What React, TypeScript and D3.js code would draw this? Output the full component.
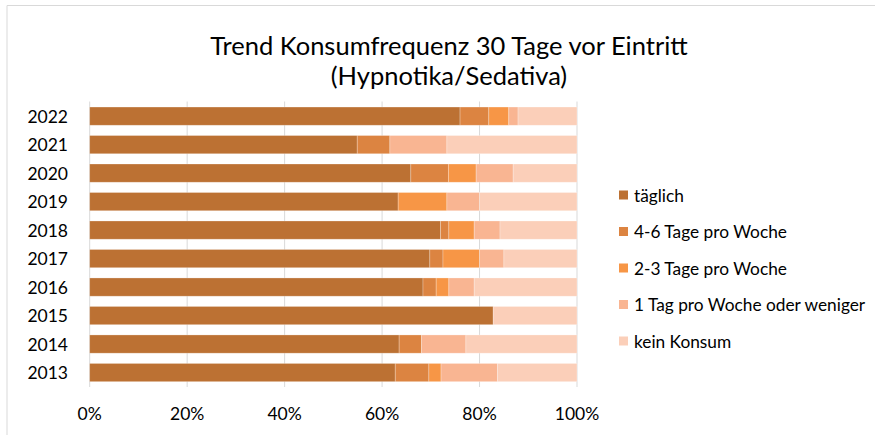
import * as d3 from 'd3';

const years = ['2022', '2021', '2020', '2019', '2018', '2017', '2016', '2015', '2014', '2013'];
const seriesNames = ['täglich', '4-6 Tage pro Woche', '2-3 Tage pro Woche', '1 Tag pro Woche oder weniger', 'kein Konsum'];
const taeglich = [76.0, 54.9, 65.9, 63.3, 72.0, 69.8, 68.4, 82.8, 63.5, 62.7];
const tage46 = [5.9, 6.7, 7.7, 0, 1.7, 2.7, 2.7, 0, 4.6, 6.9];
const tage23 = [4.1, 0, 5.7, 10.0, 5.2, 7.5, 2.6, 0, 0, 2.5];
const tag1 = [1.9, 11.7, 7.6, 6.7, 5.3, 5.0, 5.2, 0, 9.1, 11.6];
const keinKonsum = [12.1, 26.7, 13.1, 20.0, 15.8, 15.0, 21.1, 17.2, 22.8, 16.3];
const colors = ['#bc7133', '#dc8441', '#f79646', '#f9b592', '#fbcfb9'];
const ticks = [0, 20, 40, 60, 80, 100];

const font = 'Lato, "Noto Sans", sans-serif';

const App = () => {
  const width = 875;
  const height = 435;

  const rows = years.map((year, i) => ({
    year,
    [seriesNames[0]]: taeglich[i],
    [seriesNames[1]]: tage46[i],
    [seriesNames[2]]: tage23[i],
    [seriesNames[3]]: tag1[i],
    [seriesNames[4]]: keinKonsum[i],
  }));

  const stacked = d3.stack().keys(seriesNames)(rows as any);

  const x = d3.scaleLinear().domain([0, 100]).range([89.7, 577]);
  const y = d3.scaleBand().domain(years).range([101.9, 386.8]).paddingInner(0.36).paddingOuter(0.18);

  return (
    <svg width={width} height={height} style={{ position: 'absolute', left: 0, top: 0, background: '#fff' }}>
      {/* chart frame, only top and left edges are visible */}
      <line x1={7} y1={5.5} x2={width} y2={5.5} stroke="#d9d9d9" strokeWidth={1} />
      <line x1={7} y1={5.5} x2={7} y2={height} stroke="#d9d9d9" strokeWidth={1} />

      <text x={449} y={45} textAnchor="middle" dominantBaseline="central" fontFamily={font} fontSize={25.5} fill="#000">
        Trend Konsumfrequenz 30 Tage vor Eintritt
      </text>
      <text x={449} y={75} textAnchor="middle" dominantBaseline="central" fontFamily={font} fontSize={25.5} fill="#000">
        (Hypnotika/Sedativa)
      </text>

      {ticks.map((t) => (
        <g key={t}>
          <line x1={x(t)} x2={x(t)} y1={101.5} y2={387} stroke="#d9d9d9" strokeWidth={1} />
          <text x={x(t)} y={413} textAnchor="middle" dominantBaseline="central" fontFamily={font} fontSize={17.5} fill="#000">
            {t}%
          </text>
        </g>
      ))}

      {stacked.map((layer, k) => (
        <g key={layer.key} fill={colors[k]}>
          {layer.map((d, i) =>
            d[1] - d[0] > 0 ? (
              <rect
                key={i}
                x={x(d[0])}
                width={x(d[1]) - x(d[0])}
                y={y(years[i])}
                height={y.bandwidth()}
                stroke="#fff"
                strokeOpacity={0.35}
                strokeWidth={0.75}
              />
            ) : null
          )}
        </g>
      ))}

      {years.map((yr) => (
        <text
          key={yr}
          x={68}
          y={(y(yr) as number) + y.bandwidth() / 2}
          textAnchor="end"
          dominantBaseline="central"
          fontFamily={font}
          fontSize={17.5}
          fill="#000"
        >
          {yr}
        </text>
      ))}

      {seriesNames.map((name, i) => (
        <g key={name} transform={`translate(619, ${195 + i * 36.5})`}>
          <rect x={0} y={-4.5} width={9} height={9} fill={colors[i]} />
          <text x={15} y={0} dominantBaseline="central" fontFamily={font} fontSize={17.3} fill="#000">
            {name}
          </text>
        </g>
      ))}
    </svg>
  );
};

export default App;
